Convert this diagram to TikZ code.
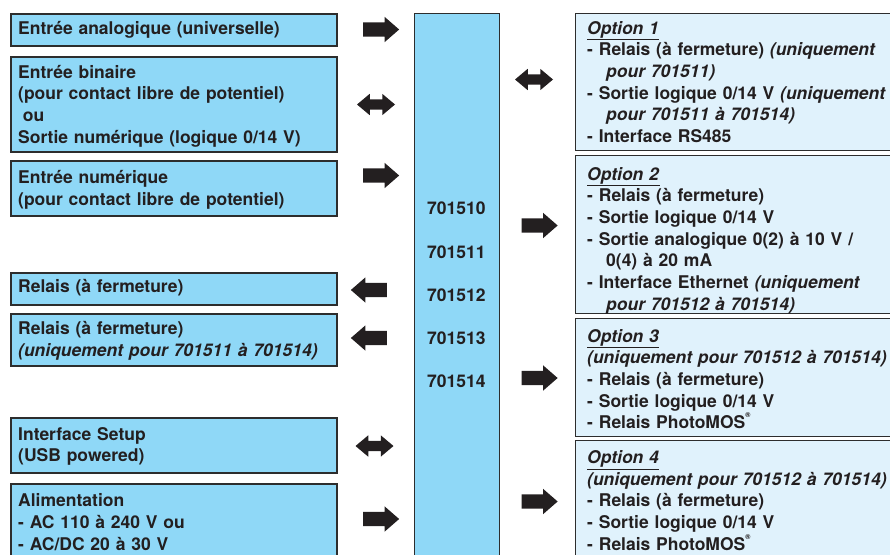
\documentclass[tikz,border=0pt]{standalone}
\usepackage{fontspec}
\setmainfont{TeX Gyre Heros}
\usetikzlibrary{shapes.arrows}
\definecolor{lfill}{RGB}{143,216,247}
\definecolor{rfill}{RGB}{224,242,252}
\definecolor{bord}{RGB}{45,45,45}
\definecolor{ink}{RGB}{35,31,32}
\newcommand{\regmark}{\raisebox{0.62em}{\fontsize{7}{7}\selectfont\textregistered}}
\newcommand{\ind}{\hspace*{19pt}}
\tikzset{
  lbox/.style={draw=bord, line width=1.6pt, fill=lfill, rectangle, inner sep=0pt, anchor=north west},
  rbox/.style={draw=bord, line width=1.4pt, fill=rfill, rectangle, inner sep=0pt, anchor=north west},
  txt/.style={anchor=base west, inner sep=0pt, text=ink, align=left, text width=320pt,
    font=\fontsize{17.5}{21.7}\selectfont\bfseries},
  rarr/.style={single arrow, fill=ink, draw=none, inner xsep=0pt, inner ysep=7pt, minimum height=36pt,
    minimum width=25pt, single arrow head extend=5.5pt, single arrow tip angle=82},
  larr/.style={rarr, shape border rotate=180},
  darr/.style={double arrow, fill=ink, draw=none, inner xsep=0pt, inner ysep=5pt, minimum height=38pt,
    minimum width=21pt, double arrow head extend=5.5pt, double arrow tip angle=80},
}
\begin{document}
\begin{tikzpicture}[x=1pt, y=-1pt]
\useasboundingbox (0,0) rectangle (890,554);
\clip (0,0) rectangle (890,554);
% left boxes
\node[lbox, minimum width=326pt, minimum height=32pt] (e1) at (10,13) {};
\node[lbox, minimum width=326pt, minimum height=95pt] (e2) at (10,56) {};
\node[lbox, minimum width=326pt, minimum height=55pt] (e3) at (10,160) {};
\node[lbox, minimum width=326pt, minimum height=32pt] (e4) at (10,272) {};
\node[lbox, minimum width=326pt, minimum height=52pt] (e5) at (10,313) {};
\node[lbox, minimum width=326pt, minimum height=55pt] (e6) at (10,417) {};
\node[lbox, minimum width=326pt, minimum height=120pt] (e7) at (10,483) {};
\node[txt] (t1) at (18,34) {Entrée analogique (universelle)};
\node[txt] (t2) at (18,78) {Entrée binaire\\(pour contact libre de potentiel)\\\hspace*{0.27em}ou\\Sortie numérique (logique 0/14 V)};
\node[txt] (t3) at (18,183.5) {Entrée numérique\\(pour contact libre de potentiel)};
\node[txt] (t4) at (18,292.7) {Relais (à fermeture)};
\node[txt, font=\fontsize{17.5}{22}\selectfont\bfseries] (t5) at (18,334) {Relais (à fermeture)\\\textit{(uniquement pour 701511 à 701514)}};
\node[txt] (t6) at (18,440) {Interface Setup\\(USB powered)};
\node[txt] (t7) at (18,506.7) {Alimentation\\- AC 110 à 240 V ou\\- AC/DC 20 à 30 V};
% centre box
\node[lbox, line width=1.4pt, minimum width=85pt, minimum height=600pt] (dev) at (414,13) {};
\node[txt] (d0) at (427,214) {701510};
\node[txt] (d1) at (427,258) {701511};
\node[txt] (d2) at (427,301) {701512};
\node[txt] (d3) at (427,344) {701513};
\node[txt] (d4) at (427,387.5) {701514};
% right boxes
\node[rbox, minimum width=330pt, minimum height=137pt] (o1) at (575,13) {};
\node[rbox, minimum width=330pt, minimum height=158pt] (o2) at (575,155) {};
\node[rbox, minimum width=330pt, minimum height=118pt] (o3) at (575,318) {};
\node[rbox, minimum width=330pt, minimum height=160pt] (o4) at (575,440) {};
\node[txt] (p1) at (587,34) {\underline{\textit{Option 1}}\\- Relais (à fermeture) \textit{(uniquement}\\\ind\textit{pour 701511)}\\- Sortie logique 0/14 V \textit{(uniquement}\\\ind\textit{pour 701511 à 701514)}\\- Interface RS485};
\node[txt] (p2) at (587,180) {\underline{\textit{Option 2}}\\- Relais (à fermeture)\\- Sortie logique 0/14 V\\- Sortie analogique 0(2) à 10 V /\\\ind 0(4) à 20 mA\\- Interface Ethernet \textit{(uniquement}\\\ind\textit{pour 701512 à 701514)}};
\node[txt] (p3) at (587,342) {\underline{\textit{Option 3}}\\\textit{(uniquement pour 701512 à 701514)}\\- Relais (à fermeture)\\- Sortie logique 0/14 V\\- Relais PhotoMOS\regmark};
\node[txt] (p4) at (587,463.5) {\underline{\textit{Option 4}}\\\textit{(uniquement pour 701512 à 701514)}\\- Relais (à fermeture)\\- Sortie logique 0/14 V\\- Relais PhotoMOS\regmark};
% arrows left side
\node[rarr] (a1) at (377,29.5) {};
\node[darr] (a2) at (376,104.5) {};
\node[rarr] (a3) at (377,175.5) {};
\node[larr] (a4) at (373,290) {};
\node[larr] (a5) at (373,338) {};
\node[darr] (a6) at (374.5,446) {};
\node[rarr] (a7) at (377,519) {};
% arrows right side
\node[darr] (b1) at (534,79.5) {};
\node[rarr] (b2) at (535.5,225.5) {};
\node[rarr] (b3) at (535.5,378) {};
\node[rarr] (b4) at (535.5,501.5) {};
\end{tikzpicture}
\end{document}
